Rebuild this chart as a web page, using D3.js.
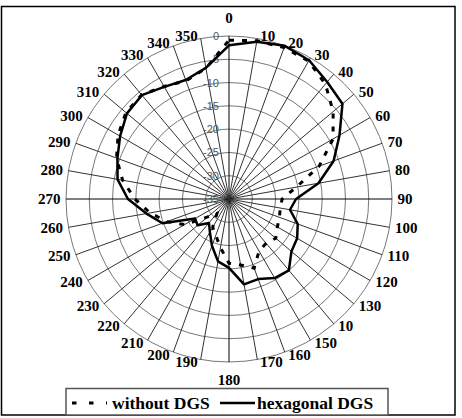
<!DOCTYPE html>
<html>
<head>
<meta charset="utf-8">
<script src="https://cdn.jsdelivr.net/npm/d3@7/dist/d3.min.js"></script>
<style>
body { margin: 0; background: #fff; }
svg { display: block; }
</style>
</head>
<body>
<script>
// angles of the categories (degrees) and their labels ("10" at 140 as in the original)
var angles = [0, 10, 20, 30, 40, 50, 60, 70, 80, 90, 100, 110, 120, 130, 140, 150, 160, 170,
              180, 190, 200, 210, 220, 230, 240, 250, 260, 270, 280, 290, 300, 310, 320, 330, 340, 350];
var angleLabels = ["0", "10", "20", "30", "40", "50", "60", "70", "80", "90", "100", "110", "120", "130", "10", "150", "160", "170",
                   "180", "190", "200", "210", "220", "230", "240", "250", "260", "270", "280", "290", "300", "310", "320", "330", "340", "350"];
var radialTicks = [-35, -30, -25, -20, -15, -10, -5, 0];

var withoutDGS = [-0.9, -0.5, -0.4, -0.8, -2.8, -5.8, -9.2, -14.4, -20.3, -23.6, -23.8, -23.5, -23.0, -21.9, -22.6, -22.1, -19.2, -20.6,
                  -21.2, -24.4, -26.7, -28.0, -31.0, -29.0, -24.0, -20.8, -17.8, -14.8, -11.8, -9.3, -7.5, -6.1, -5.8, -7.1, -8.0, -6.5];
var hexagonalDGS = [-2.0, -0.7, 0, -0.6, -2.2, -3.2, -7.6, -11.1, -15.5, -20.6, -21.7, -19.3, -18.1, -17.5, -15.0, -15.4, -16.7, -16.4,
                    -20.2, -21.4, -24.3, -26.8, -28.3, -26.2, -26.6, -19.8, -17.0, -13.3, -10.7, -9.5, -8.0, -6.4, -5.9, -7.2, -7.8, -6.4];

var W = 462, H = 418;
var cx = 229, cy = 199, R = 163;

var svg = d3.select("body").append("svg")
    .attr("width", W)
    .attr("height", H);

// outer frame
svg.append("rect")
    .attr("x", 1.5).attr("y", 6.5)
    .attr("width", 453.5).attr("height", 408.5)
    .attr("fill", "#fff")
    .attr("stroke", "#000")
    .attr("stroke-width", 1.5);

var r = d3.scaleLinear().domain([-35, 0]).range([0, R]);
var a = d3.scaleLinear().domain([0, 360]).range([0, 2 * Math.PI]);

var g = svg.append("g").attr("transform", "translate(" + cx + "," + cy + ")");

// rings
g.selectAll(".ring")
    .data(radialTicks.slice(1))
    .enter()
    .append("circle")
    .attr("class", "ring")
    .attr("r", function(d){ return r(d); })
    .attr("fill", "none")
    .attr("stroke", "#777")
    .attr("stroke-width", 1);

// spokes
g.selectAll(".spoke")
    .data(angles)
    .enter()
    .append("line")
    .attr("class", "spoke")
    .attr("x1", 0).attr("y1", 0)
    .attr("x2", function(d){ return R * Math.sin(a(d)); })
    .attr("y2", function(d){ return -R * Math.cos(a(d)); })
    .attr("stroke", function(d){ return d % 90 == 0 ? "#000" : "#333"; })
    .attr("stroke-width", 1);

// radial tick labels
g.selectAll(".rlab")
    .data(radialTicks)
    .enter()
    .append("text")
    .attr("class", "rlab")
    .attr("x", -10)
    .attr("y", function(d){ return -r(d); })
    .attr("text-anchor", "end")
    .attr("dominant-baseline", "central")
    .attr("font-family", "Liberation Sans, Arial, sans-serif")
    .attr("font-size", 11)
    .attr("fill", "#555")
    .text(function(d){ return d; });

// angle labels
var labR = 166;
g.selectAll(".alab")
    .data(angles)
    .enter()
    .append("text")
    .attr("class", "alab")
    .attr("x", function(d){
        var x = labR * Math.sin(a(d));
        if (d == 0 || d == 180) return 0;
        return d < 180 ? x + 2.5 : x - 2.5;
    })
    .attr("y", function(d){
        var y = -labR * Math.cos(a(d));
        if (d == 0) return y - 15;
        if (d == 180) return y + 15;
        return y;
    })
    .attr("text-anchor", function(d){
        if (d == 0 || d == 180) return "middle";
        return d < 180 ? "start" : "end";
    })
    .attr("dominant-baseline", "central")
    .attr("font-family", "Liberation Serif, Times New Roman, serif")
    .attr("font-weight", "bold")
    .attr("font-size", 15)
    .attr("fill", "#000")
    .text(function(d, i){ return angleLabels[i]; });

var line = d3.lineRadial()
    .angle(function(d, i){ return a(angles[i]); })
    .radius(function(d){ return r(d); })
    .curve(d3.curveLinearClosed);

g.append("path")
    .datum(hexagonalDGS)
    .attr("d", line)
    .attr("fill", "none")
    .attr("stroke", "#000")
    .attr("stroke-width", 2.5)
    .attr("stroke-linejoin", "round");

g.append("path")
    .datum(withoutDGS)
    .attr("d", line)
    .attr("fill", "none")
    .attr("stroke", "#000")
    .attr("stroke-width", 3)
    .attr("stroke-dasharray", "5,8");

// legend
var leg = svg.append("g");
leg.append("rect")
    .attr("x", 66).attr("y", 388.5)
    .attr("width", 322).attr("height", 26.5)
    .attr("fill", "#fff")
    .attr("stroke", "#555")
    .attr("stroke-width", 1.5);
leg.append("line")
    .attr("x1", 72).attr("x2", 107)
    .attr("y1", 403).attr("y2", 403)
    .attr("stroke", "#000")
    .attr("stroke-width", 3)
    .attr("stroke-dasharray", "4.5,12.5");
leg.append("text")
    .attr("x", 112).attr("y", 408.5)
    .attr("font-family", "Liberation Serif, Times New Roman, serif")
    .attr("font-weight", "bold")
    .attr("font-size", 17.5)
    .text("without DGS");
leg.append("line")
    .attr("x1", 220).attr("x2", 255)
    .attr("y1", 403).attr("y2", 403)
    .attr("stroke", "#000")
    .attr("stroke-width", 2.5);
leg.append("text")
    .attr("x", 257).attr("y", 408.5)
    .attr("font-family", "Liberation Serif, Times New Roman, serif")
    .attr("font-weight", "bold")
    .attr("font-size", 17.5)
    .text("hexagonal DGS");
</script>
</body>
</html>
